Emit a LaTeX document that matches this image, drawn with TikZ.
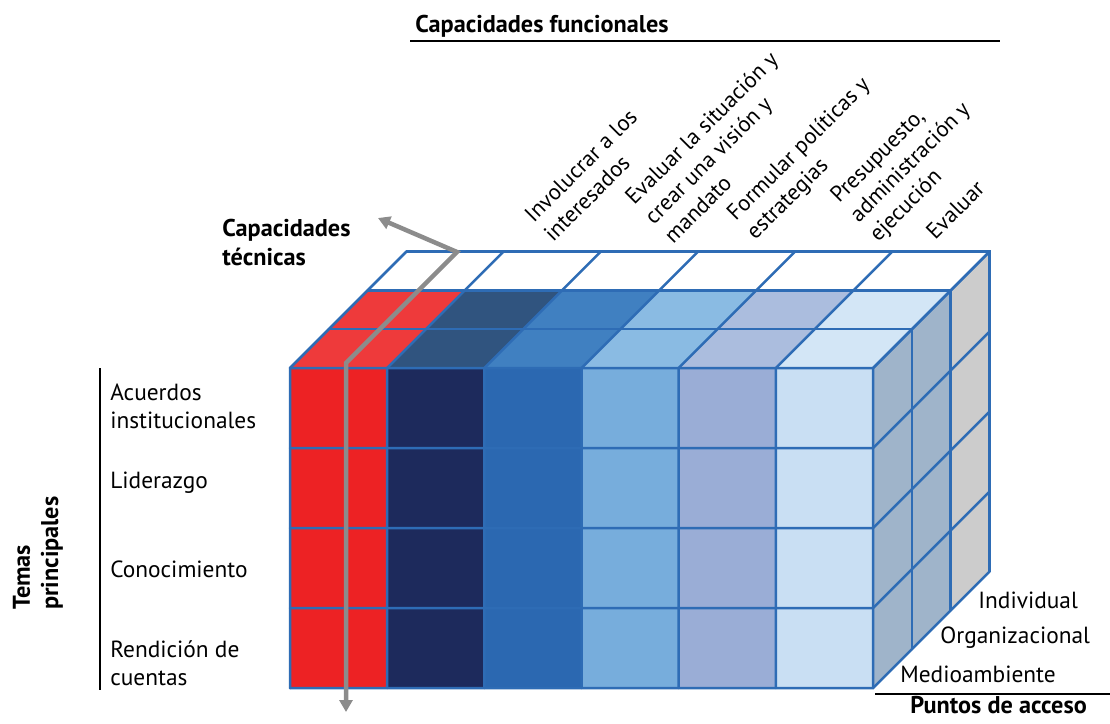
\documentclass[tikz,border=0pt]{standalone}
\usepackage{fontspec}
\setmainfont{PT Sans}
\usetikzlibrary{arrows.meta}

\definecolor{gridblue}{HTML}{2E6CB5}
\definecolor{arrowgray}{HTML}{8C8C8C}
\definecolor{frontred}{HTML}{ED2224}
\definecolor{frontnavy}{HTML}{1D2A5C}
\definecolor{frontblue}{HTML}{2B68B1}
\definecolor{frontsky}{HTML}{77ADDC}
\definecolor{frontlav}{HTML}{9AADD6}
\definecolor{frontpale}{HTML}{C9DFF3}
\definecolor{topred}{HTML}{EE3A3B}
\definecolor{topnavy}{HTML}{30547F}
\definecolor{topblue}{HTML}{4080C1}
\definecolor{topsky}{HTML}{8ABBE3}
\definecolor{toplav}{HTML}{ABBDDE}
\definecolor{toppale}{HTML}{D3E6F6}
\definecolor{sideblue}{HTML}{9FB4CA}
\definecolor{sidegray}{HTML}{CCCCCC}

\tikzset{cell edge/.style={draw=gridblue,line width=0.05cm,line cap=round},
rule/.style={draw=black,line width=0.03cm},
axis title/.style={font=\bfseries\fontsize{13.8}{16}\selectfont,anchor=base west,align=left,inner sep=0},
row label/.style={font=\fontsize{13.3}{15.4}\selectfont,anchor=base west,align=left,inner sep=0},
column label/.style={font=\fontsize{12.8}{15.6}\selectfont,rotate=45,anchor=base west,align=left,inner sep=0},
side label/.style={font=\fontsize{13.3}{15.4}\selectfont,anchor=base west,inner sep=0},
guide arrow/.style={draw=arrowgray,line width=0.09cm,{Triangle[length=0.24cm,width=0.26cm]}-{Triangle[length=0.24cm,width=0.26cm]}}}

\begin{document}
\begin{tikzpicture}[x=0.02cm,y=-0.02cm]
\fill[white] (0,0) rectangle (1110,724);
\useasboundingbox (0,0) rectangle (1110,724);

% cube: 6 columns (functions), 4 rows (themes), 3 layers (access points)
\def\frontx{290}
\def\fronty{368}
\def\colw{97.17}
\def\rowh{80}
\def\layd{38.8}

%% Coordinates of cube corners.
\coordinate (ftl) at (\frontx,\fronty);
\coordinate (ftr) at ({\frontx+6*\colw},\fronty);
\coordinate (mtr) at ({\frontx+6*\colw+2*\layd},{\fronty-2*\layd});

%% front face
\foreach \fc [count=\i from 0] in {frontred,frontnavy,frontblue,frontsky,frontlav,frontpale}
  \fill[\fc] ({\frontx+\i*\colw},\fronty) rectangle ++(\colw,4*\rowh);

%% top face (back layer stays white)
\foreach \tc [count=\i from 0] in {topred,topnavy,topblue,topsky,toplav,toppale}
  \fill[\tc] ({\frontx+\i*\colw},\fronty) -- ++(\colw,0) -- ++(2*\layd,-2*\layd) -- ++(-\colw,0) -- cycle;

%% right face
\fill[sideblue] (ftr) -- (mtr) -- ++(0,4*\rowh) -- ++(-2*\layd,2*\layd) -- cycle;
\fill[sidegray] (mtr) -- ++(\layd,-\layd) -- ++(0,4*\rowh) -- ++(-\layd,\layd) -- cycle;

%% grid lines
\foreach \i in {0,...,6} {
  \draw[cell edge] ({\frontx+\i*\colw},{\fronty+4*\rowh}) -- ++(0,-4*\rowh) -- ++(3*\layd,-3*\layd);
}
\foreach \j in {0,...,4} {
  \draw[cell edge] (\frontx,{\fronty+\j*\rowh}) -- ++(6*\colw,0) -- ++(3*\layd,-3*\layd);
}
\foreach \k in {1,2,3} {
  \draw[cell edge] ({\frontx+\k*\layd},{\fronty-\k*\layd}) -- ++(6*\colw,0) -- ++(0,4*\rowh);
}

%% guide arrow for technical capacities
\coordinate (a1) at (378,218);
\coordinate (a2) at (457,252);
\coordinate (a3) at (346,363);
\coordinate (a4) at (346,712);
\draw[guide arrow] (a1) -- (a2) -- (a3) -- (a4);

%% axis titles and rules
\node[axis title] (funcionales) at (415,32) {Capacidades funcionales};
\node[axis title] (tecnicas) at (222,265) {Capacidades\\técnicas};
\node[axis title,rotate=90] (temas) at (58,610) {Temas\\principales};
\node[axis title] (puntos) at (910,713) {Puntos de acceso};
\coordinate (r1) at (410,41);
\coordinate (r1p) at (1000,41);
\coordinate (r2) at (100,368);
\coordinate (r2p) at (100,690);
\coordinate (r3) at (875,694);
\coordinate (r3p) at (1110,694);
\draw[rule] (r1) -- (r1p);
\draw[rule] (r2) -- (r2p);
\draw[rule] (r3) -- (r3p);

%% row labels
\node[row label] (acuerdos) at (110,428) {Acuerdos\\institucionales};
\node[row label] (liderazgo) at (110,488) {Liderazgo};
\node[row label] (conocimiento) at (110,577) {Conocimiento};
\node[row label] (rendicion) at (110,685) {Rendición de\\cuentas};

%% column labels
\node[column label] (involucrar) at (553,243) {Involucrar a los\\interesados};
\node[column label] (situacion) at (673,245) {Evaluar la situación y\\crear una visión y\\mandato};
\node[column label] (formular) at (755,241) {Formular políticas y\\estrategias};
\node[column label] (presupuesto) at (878,243) {Presupuesto,\\administración y\\ejecución};
\node[column label] (evaluar) at (935,241) {Evaluar};

%% access point labels
\node[side label] (individual) at (978,608) {Individual};
\node[side label] (organizacional) at (940,643) {Organizacional};
\node[side label] (medioambiente) at (900,682) {Medioambiente};

\end{tikzpicture}
\end{document}
